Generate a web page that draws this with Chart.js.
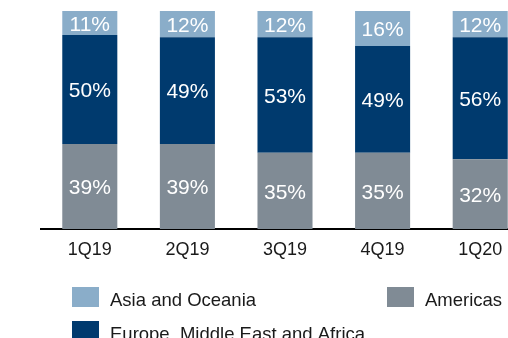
<!DOCTYPE html>
<html>
<head>
<meta charset="utf-8">
<script src="https://cdn.jsdelivr.net/npm/chart.js@4/dist/chart.umd.min.js"></script>
<style>
  html, body { margin: 0; padding: 0; background: #ffffff; overflow: hidden; }
  #wrap { position: relative; width: 529px; height: 338px; }
</style>
</head>
<body>
<div id="wrap"><canvas id="c" width="529" height="338"></canvas></div>
<script>
const categories = ['1Q19', '2Q19', '3Q19', '4Q19', '1Q20'];
const americas = [39, 39, 35, 35, 32];
const emea = [50, 49, 53, 49, 56];
const asia = [11, 12, 12, 16, 12];

const seriesNames = ['Americas', 'Europe, Middle East and Africa', 'Asia and Oceania'];
const seriesColors = ['#808b95', '#003a6e', '#8aadc9'];

const FONT = "'Liberation Sans', Arial, sans-serif";

const valueLabels = {
  id: 'valueLabels',
  afterDatasetsDraw(chart) {
    const ctx = chart.ctx;
    ctx.save();
    ctx.font = '21px ' + FONT;
    ctx.fillStyle = '#ffffff';
    ctx.textAlign = 'center';
    ctx.textBaseline = 'middle';
    chart.data.datasets.forEach((ds, di) => {
      const meta = chart.getDatasetMeta(di);
      meta.data.forEach((bar, i) => {
        const cy = (bar.y + bar.base) / 2 + 2;
        ctx.fillText(ds.data[i] + '%', bar.x, cy);
      });
    });
    ctx.restore();
  }
};

const customLegend = {
  id: 'customLegend',
  afterDraw(chart) {
    const ctx = chart.ctx;
    // order & placement: Asia (row1 col1), Americas (row1 col2), EMEA (row2 col1)
    const items = [
      { ds: 2, x: 72, y: 287 },
      { ds: 0, x: 387, y: 287 },
      { ds: 1, x: 72, y: 321 }
    ];
    ctx.save();
    ctx.font = '18.5px ' + FONT;
    ctx.textAlign = 'left';
    ctx.textBaseline = 'alphabetic';
    items.forEach(it => {
      const ds = chart.data.datasets[it.ds];
      ctx.fillStyle = ds.backgroundColor;
      ctx.fillRect(it.x, it.y, 27, 20);
      ctx.fillStyle = '#1a1a1a';
      ctx.fillText(ds.label, it.x + 38, it.y + 19);
    });
    ctx.restore();
  }
};

new Chart(document.getElementById('c'), {
  type: 'bar',
  data: {
    labels: categories,
    datasets: [
      { label: seriesNames[0], data: americas, backgroundColor: seriesColors[0] },
      { label: seriesNames[1], data: emea, backgroundColor: seriesColors[1] },
      { label: seriesNames[2], data: asia, backgroundColor: seriesColors[2] }
    ]
  },
  options: {
    responsive: false,
    animation: false,
    devicePixelRatio: 1,
    layout: { padding: { left: 41, right: 0, top: 11, bottom: 0 } },
    datasets: { bar: { categoryPercentage: 1, barPercentage: 0.564, borderWidth: 0 } },
    plugins: { legend: { display: false }, tooltip: { enabled: false } },
    scales: {
      x: {
        stacked: true,
        grid: { display: false, drawTicks: false },
        border: { display: true, color: '#000000', width: 2 },
        ticks: { color: '#1a1a1a', font: { family: FONT, size: 18 }, padding: 10 },
        afterFit(s) { s.height = 109; }
      },
      y: {
        stacked: true,
        display: false,
        min: 0,
        max: 100
      }
    }
  },
  plugins: [valueLabels, customLegend]
});
</script>
</body>
</html>
